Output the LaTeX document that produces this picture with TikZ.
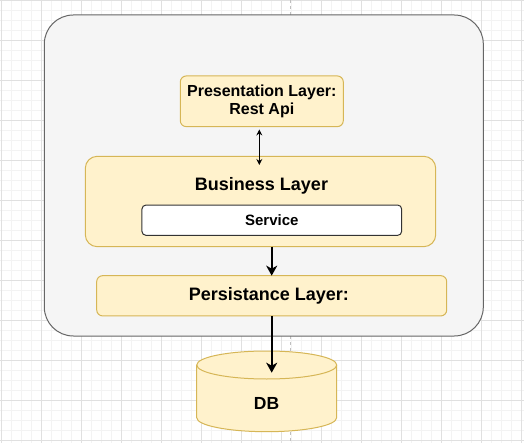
\documentclass[tikz,border=0pt]{standalone}
\usepackage{fontspec}
\setmainfont{Liberation Sans}
\usepackage{xcolor}
\usepackage{tikz}
\usetikzlibrary{positioning,calc,arrows.meta}

\definecolor{layerfill}{HTML}{FFF2CC}
\definecolor{layerline}{HTML}{D6B656}
\definecolor{appfill}{HTML}{F5F5F5}
\definecolor{appline}{HTML}{666666}
\definecolor{gridminor}{HTML}{F3F3F3}
\definecolor{gridmajor}{HTML}{E0E0E0}

\begin{document}
\begin{tikzpicture}[
    x=1pt, y=-1pt,
    every node/.style={inner sep=0pt, outer sep=0pt, font=\bfseries},
    appbox/.style={draw=appline, fill=appfill, line width=1pt, rounded corners=29pt},
    layer/.style={draw=layerline, fill=layerfill, line width=1pt, rectangle},
    servicebox/.style={draw=black!80, fill=white, line width=1pt, rounded corners=4pt},
    dbshape/.style={draw=layerline, fill=layerfill, line width=1pt},
    thinarrow/.style={line width=1pt, {Stealth[length=6pt,width=6pt,inset=2pt]}-{Stealth[length=6pt,width=6pt,inset=2pt]}},
    thickarrow/.style={line width=2pt, -{Stealth[length=10pt,width=11pt,inset=3pt]}}
]
    \useasboundingbox[fill=white] (0,0) rectangle (524,443);

    % canvas grid
    \foreach \k in {0,...,52} \draw[gridminor, line width=0.8pt] (1+10*\k,0) -- (1+10*\k,443);
    \foreach \k in {0,...,44} \draw[gridminor, line width=0.8pt] (0,10*\k) -- (524,10*\k);
    \foreach \k in {0,...,13} \draw[gridmajor, line width=0.8pt] (1+40*\k,0) -- (1+40*\k,443);
    \foreach \k in {0,...,11} \draw[gridmajor, line width=0.8pt] (0,40*\k) -- (524,40*\k);
    \draw[black!25, line width=0.8pt, dash pattern=on 3pt off 3pt] (290.3,0) -- (290.3,443);

    % application box
    \node[appbox, minimum width=439pt, minimum height=321pt] (app) at (263.8,175.5) {};

    % layers
    \node[layer, rounded corners=6pt, minimum width=163pt, minimum height=50.7pt,
          align=center, font=\bfseries\fontsize{16}{18}\selectfont] (pres) at (261.8,101.3)
          {Presentation Layer:\\Rest Api};
    \node[layer, rounded corners=12pt, minimum width=350.4pt, minimum height=90.4pt] (biz) at (260.5,201.5) {};
    \node[font=\bfseries\fontsize{18}{20}\selectfont] (biztitle) at (261.5,185.7) {Business Layer};
    \node[servicebox, minimum width=259.7pt, minimum height=30.3pt,
          font=\bfseries\fontsize{15}{17}\selectfont] (service) at (271.8,220.2) {Service};
    \node[layer, rounded corners=6pt, minimum width=350pt, minimum height=40.3pt] (pers) at (271.7,295.8) {};
    \node[font=\bfseries\fontsize{18}{20}\selectfont] (perstitle) at (268.8,295.8) {Persistance Layer:};

    % database
    \filldraw[dbshape] (196.7,365) -- (196.7,417.7) arc[start angle=180, end angle=0, x radius=70, y radius=14]
        -- (336.7,365) arc[start angle=0, end angle=-180, x radius=70, y radius=14] -- cycle;
    \draw[dbshape, fill=none] (196.7,365) arc[start angle=180, end angle=0, x radius=70, y radius=14];
    \node[font=\bfseries\fontsize{17.5}{20}\selectfont] (db) at (266.5,403) {DB};
    \coordinate (dbtip) at (266.7,372.7);

    % connectors
    \draw[thinarrow] ([xshift=-2.5pt, yshift=-2.8pt]pres.south) -- ([xshift=-1.2pt, yshift=-8.7pt]biz.north);
    \draw[thickarrow] (biz.south -| pers.north) -- (pers.north);
    \draw[thickarrow] (pers.south) -- (pers.south |- dbtip);
\end{tikzpicture}
\end{document}
